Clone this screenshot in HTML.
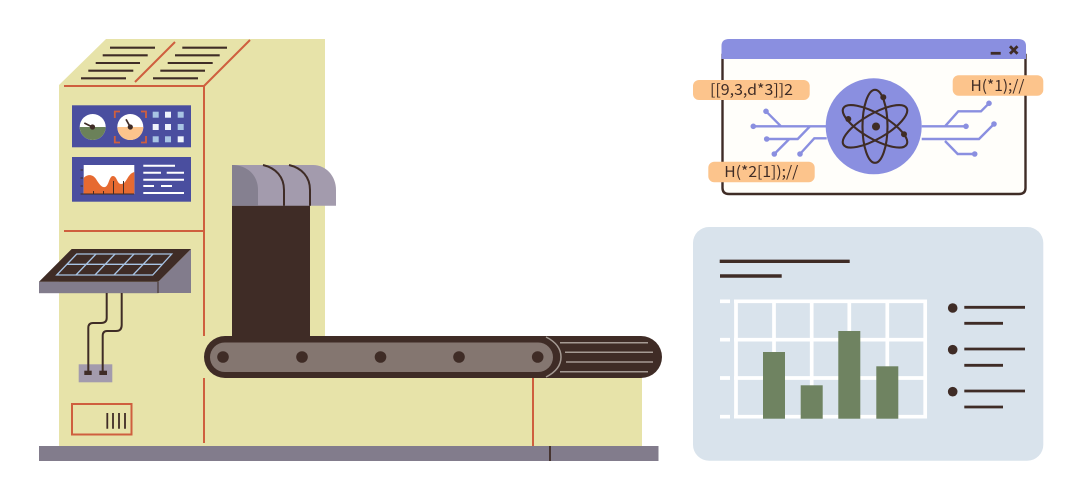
<!DOCTYPE html>
<html><head><meta charset="utf-8"><style>
html,body{margin:0;padding:0;background:#fff}
svg{display:block}
text{font-family:"Noto Sans CJK SC","Liberation Sans",sans-serif;font-size:15px;fill:#3f2c26}
</style></head><body>
<svg width="1080" height="500" viewBox="0 0 1080 500" xmlns="http://www.w3.org/2000/svg">
<rect width="1080" height="500" fill="#fff"/>
<!-- body -->
<path d="M59 85L106 39H325V340H642V447H59Z" fill="#e7e3a9"/>
<!-- red lines -->
<g stroke="#cf5f3e" stroke-width="2" fill="none">
<path d="M64 86H204V336M204 378V443M64 231H204M204 86L250 40M135 82L175 42M533 378V446"/>
<rect x="72" y="404" width="59.500" height="30.500"/>
</g>
<!-- vents -->
<g stroke="#3f2c26" stroke-width="2.100">
<path d="M110 47.700H155M102.700 55.300H147.700M95.700 63H140M88.300 70.700H133.300M81 78.300H126"/>
<path d="M182.300 47.700H227M175 55.300H219.700M167.700 63H212.700M160.300 70.700H205M153 78.300H198"/>
<path d="M107.300 413V428.700M113 413V428.700M119 413V428.700M125 413V428.700" stroke-width="1.800"/>
</g>
<!-- panels -->
<rect x="72" y="105.300" width="119" height="42" fill="#4a4e9f"/>
<rect x="72" y="157" width="119" height="44.700" fill="#4a4e9f"/>
<circle cx="92.700" cy="127" r="13" fill="#fff"/>
<path d="M79.700 127H105.700A13 13 0 0 1 79.700 127Z" fill="#6b8159"/>
<circle cx="130.300" cy="127" r="13" fill="#fff"/>
<path d="M117.300 127H143.300A13 13 0 0 1 117.300 127Z" fill="#fcc48c"/>
<g stroke="#3f2c26" stroke-width="1.700"><path d="M84.300 123L92.300 127M126 119.300L130.300 127"/></g>
<circle cx="92.500" cy="127" r="2.600" fill="#3f2c26"/><circle cx="130.300" cy="127" r="2.600" fill="#3f2c26"/>
<path d="M114.800 118V111.500H120M141 111.500H146V118M114.800 136V142.500H120M141 142.500H146V136" fill="none" stroke="#cf5f3e" stroke-width="1.800"/>
<g fill="#a8c4e4">
<rect x="152.700" y="111.700" width="6" height="6"/><rect x="177.700" y="111.700" width="6" height="6"/>
<rect x="177.700" y="124" width="6" height="6"/>
<rect x="152.700" y="136.300" width="6" height="6"/><rect x="165" y="136.300" width="6" height="6"/>
</g>
<g fill="#eef3fb">
<rect x="165" y="111.700" width="6" height="6"/><rect x="152.700" y="124" width="6" height="6"/>
<rect x="165" y="124" width="6" height="6"/><rect x="177.700" y="136.300" width="6" height="6"/>
</g>
<rect x="83.700" y="165" width="50.600" height="29" fill="#fff"/>
<path d="M83.700 178C86 175 92 173 96 179C99 184 102 188 105 187C109 186 109 176 113 176C117 176 117 184 121 184C127 184 127 174 134.300 172V194H83.700Z" fill="#e66a31"/>
<path d="M93.500 191V194M103.500 191V194M113.500 181V194M123.500 181V194M80.500 170H83M80.500 178H83M80.500 186H83M80.500 194H134" stroke="#3f2c26" stroke-width="1"/>
<g stroke="#fff" stroke-width="2">
<path d="M143.300 165.700H175M143.300 172.700H161M166.700 172.700H184M143.300 179.700H184M143.300 186H154M161 186H172M143.300 193H184"/>
</g>
<!-- chute & hood -->
<rect x="232" y="205" width="78" height="131" fill="#3f2c26"/>
<path d="M232 165H313C326 165 336 176 336 190V205.700H232Z" fill="#a39bad"/>
<path d="M232 165C247 165 258 175 258 190V205.700H232Z" fill="#858090"/>
<path d="M263 165C276 168 284 177 284 190V205.700M289 165C302 168 310 177 310 190V205.700" fill="none" stroke="#3f2c26" stroke-width="2"/>
<!-- solar -->
<path d="M158 282L191 249V293H158Z" fill="#827c8c"/>
<rect x="39" y="281.700" width="119.500" height="11.500" fill="#827c8c"/>
<path d="M158 282V293" stroke="#3f2c26" stroke-width="1"/>
<path d="M71.700 249H191L158.300 281.700H39Z" fill="#3f2c26"/>
<g stroke="#a8c4e4" stroke-width="1.300" fill="none">
<path d="M76.700 254H171.700L152.700 275H56.700Z"/>
<path d="M66.700 264.300H162M96 254L76 275M115 254L95 275M134 254L114 275M153 254L133 275"/>
</g>
<!-- wires -->
<rect x="78.700" y="364.300" width="33.600" height="18" fill="#a39bad"/>
<path d="M106.700 293V318Q106.700 323 101 323H93Q88.300 323 88.300 328V373M121.700 293V325Q121.700 331 116 331H107Q102.700 331 102.700 336V373" fill="none" stroke="#3f2c26" stroke-width="2"/>
<rect x="84.300" y="370.700" width="7.400" height="4.300" fill="#3f2c26"/>
<rect x="99.300" y="370.700" width="7.700" height="4.300" fill="#3f2c26"/>
<!-- base -->
<rect x="39" y="446" width="619.500" height="15" fill="#827c8c"/>
<path d="M550 446V461" stroke="#3f2c26" stroke-width="1.800"/>
<!-- conveyor -->
<rect x="204" y="336" width="458" height="42" rx="21" fill="#3f2c26"/>
<rect x="210" y="342.500" width="343" height="29.500" rx="14.750" fill="#847670"/>
<path d="M546 337C556 342 561 349 561 357C561 365 556 372 546 377" fill="none" stroke="#a59a93" stroke-width="1.500"/>
<path d="M560 342.700H648M565 352.300H653M566 362H653M560 371.700H648" stroke="#a59a93" stroke-width="1.500"/>
<g fill="#3f2c26">
<circle cx="223" cy="357" r="5.800"/><circle cx="302" cy="357" r="5.800"/><circle cx="380.500" cy="357" r="5.800"/><circle cx="459" cy="357" r="5.800"/><circle cx="537.700" cy="357" r="5.800"/>
</g>
<!-- window -->
<path d="M722.500 55V188Q722.500 194 729 194H1019Q1025.500 194 1025.500 188V55Z" fill="#fffefa" stroke="#3f2c26" stroke-width="2.400"/>
<path d="M721.500 59V46Q721.500 39 729 39H1018Q1026 39 1026 46V59Z" fill="#8a8fe0"/>
<path d="M990.700 53.300H1000.700" stroke="#3f2c26" stroke-width="2.800"/>
<path d="M1010 46.300L1017.500 53.800M1017.500 46.300L1010 53.800" stroke="#3f2c26" stroke-width="2.800"/>
<g fill="none" stroke="#8a8fe0" stroke-width="2.400">
<path d="M753.300 126.300H826M766 111.300L781 126.300M766.700 139H797.700L810 126.300M774.300 154L789.300 139M800 154L814.300 138.300H826.700"/>
<path d="M921.700 126.300H966M945 126.300L958.300 111.300H981L989 103.300M921.700 139H979L994 124M945 141L957.700 154H974.700"/>
</g>
<g fill="#8a8fe0">
<circle cx="753.300" cy="126.300" r="2.800"/><circle cx="766" cy="111.300" r="2.800"/><circle cx="766.700" cy="139" r="2.800"/><circle cx="774.300" cy="154" r="2.800"/><circle cx="800" cy="154" r="2.800"/>
<circle cx="966" cy="126.300" r="2.800"/><circle cx="989" cy="103.300" r="2.800"/><circle cx="994" cy="124" r="2.800"/><circle cx="974.700" cy="154" r="2.800"/>
<circle cx="873.700" cy="126.300" r="48"/>
</g>
<g fill="none" stroke="#3f2c26" stroke-width="2.100">
<ellipse cx="875" cy="126.300" rx="12.500" ry="36.500"/>
<ellipse cx="875" cy="126.300" rx="12.500" ry="36.500" transform="rotate(60 875 126.300)"/>
<ellipse cx="875" cy="126.300" rx="12.500" ry="36.500" transform="rotate(-60 875 126.300)"/>
</g>
<g fill="#3f2c26">
<circle cx="876" cy="126.500" r="4"/><circle cx="883.300" cy="97.300" r="3"/><circle cx="848.300" cy="119" r="3"/><circle cx="904" cy="134.300" r="3"/>
</g>
<!-- labels -->
<g fill="#fcc48c">
<rect x="693" y="80" width="116.700" height="20" rx="6"/>
<rect x="952.700" y="75.300" width="90.600" height="20.400" rx="6"/>
<rect x="708.300" y="161.700" width="106.400" height="20.600" rx="6"/>
</g>
<text x="710" y="95" textLength="83" lengthAdjust="spacingAndGlyphs">[[9,3,d*3]]2</text>
<text x="970.500" y="91" textLength="54" lengthAdjust="spacingAndGlyphs">H(*1);//</text>
<text x="724.300" y="177" textLength="74" lengthAdjust="spacingAndGlyphs">H(*2[1]);//</text>
<!-- chart panel -->
<rect x="693" y="227" width="350.300" height="233.700" rx="16" fill="#d9e3ec"/>
<path d="M719.700 261.300H849.700M720 276H781.700" stroke="#3f2c26" stroke-width="3.400"/>
<g stroke="#fff" stroke-width="3.700" fill="none">
<path d="M736 299.500V418.500M774 299.500V418.500M811.700 299.500V418.500M849.300 299.500V418.500M887.300 299.500V418.500M925.200 299.500V418.500"/>
<path d="M734 301.300H927M734 339.700H927M734 378H927M734 416.700H927"/>
<path d="M720 301.300H730M720 339.700H730M720 378H730M720 416.700H730"/>
</g>
<g fill="#6f8361">
<rect x="763" y="352" width="22" height="66.700"/>
<rect x="800.700" y="385.300" width="22" height="33.400"/>
<rect x="838.300" y="331" width="22" height="87.700"/>
<rect x="876.300" y="366.300" width="22" height="52.400"/>
</g>
<g fill="#3f2c26"><circle cx="952.700" cy="308" r="4.800"/><circle cx="952.700" cy="349.700" r="4.800"/><circle cx="952.700" cy="391.700" r="4.800"/></g>
<path d="M964.300 307.300H1025M964.300 323.300H1003M964.300 349H1025M964.300 365.300H1003M964.300 391H1025M964.300 407H1003" stroke="#3f2c26" stroke-width="2.800"/>
</svg>
</body></html>
